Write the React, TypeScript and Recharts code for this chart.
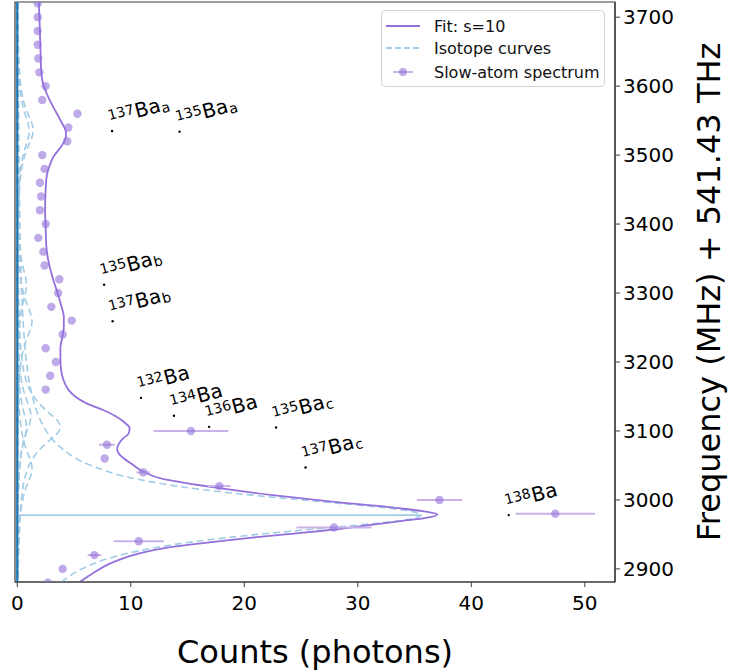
import {
  ComposedChart,
  Line,
  Scatter,
  XAxis,
  YAxis,
  ErrorBar,
  ReferenceArea,
  ReferenceDot,
} from 'recharts';

const FONT = '"DejaVu Sans", sans-serif';
const FIT_COLOR = '#9370db';
const DOT_COLOR = '#9370db';
const ERR_COLOR = '#c9b2ea';
const ISO_COLOR = '#a2cce6';
const BASE_COLOR = '#1f77b4';
const FRAME_COLOR = '#3a3a3a';

const X_DOMAIN = [-0.2, 52.66];
const Y_DOMAIN = [2881, 3722];
const X_TICKS = [0, 10, 20, 30, 40, 50];
const Y_TICKS = [2900, 3000, 3100, 3200, 3300, 3400, 3500, 3600, 3700];

// slow-atom spectrum (frequency offset in MHz, photon counts, half-width of x error)
const SPEC_FREQ = [
  3720, 3700, 3680, 3660, 3640, 3620, 3600, 3580, 3560, 3540, 3520, 3500, 3480,
  3460, 3440, 3420, 3400, 3380, 3360, 3340, 3320, 3300, 3280, 3260, 3240, 3220,
  3200, 3180, 3160, 3100, 3080, 3060, 3040, 3020, 3000, 2980, 2960, 2940, 2920,
  2900, 2880,
];
const SPEC_COUNTS = [
  1.8, 1.8, 1.8, 1.8, 1.85, 1.95, 2.5, 2.2, 5.3, 4.5, 4.4, 2.2, 2.4,
  2.0, 2.1, 2.0, 2.5, 1.85, 2.3, 2.4, 3.7, 3.6, 3.0, 4.8, 4.0, 2.5,
  3.4, 2.9, 2.5, 15.3, 7.9, 7.7, 11.1, 17.8, 37.2, 47.4, 27.9, 10.7, 6.8,
  4.0, 2.7,
];
const SPEC_ERR = [
  0, 0, 0, 0, 0, 0, 0, 0, 0, 0, 0, 0, 0,
  0, 0, 0, 0, 0, 0, 0, 0, 0, 0, 0, 0, 0,
  0, 0, 0, 3.3, 0.7, 0, 0.6, 1.0, 2.0, 3.5, 3.3, 2.2, 0.6,
  0, 0,
];

// fitted spectrum, s=10
const FIT_FREQ = [
  3722, 3700, 3675, 3650, 3625, 3605, 3589, 3575, 3560, 3546, 3536, 3530, 3522,
  3512, 3498, 3485, 3470, 3450, 3420, 3396, 3370, 3350, 3329, 3310, 3295, 3280,
  3266, 3250, 3235, 3220, 3205, 3190, 3175, 3160, 3150, 3140, 3130, 3122, 3113,
  3104, 3096, 3089, 3080, 3073, 3066, 3060, 3052, 3041, 3030, 3022, 3017, 3007,
  2998, 2988, 2983, 2979, 2974, 2969, 2963, 2957, 2950, 2945, 2940, 2936, 2932,
  2926, 2920, 2908, 2894, 2881,
];
const FIT_COUNTS = [
  1.9, 1.95, 2.0, 2.05, 2.1, 2.25, 2.6, 3.0, 3.5, 3.95, 4.25, 4.3, 4.2,
  3.85, 3.2, 2.85, 2.6, 2.5, 2.45, 2.5, 2.55, 2.7, 3.0, 3.35, 3.65, 3.9,
  4.1, 4.1, 3.95, 3.8, 3.8, 3.85, 4.05, 4.5, 5.1, 6.1, 7.6, 8.6, 9.4,
  9.9, 9.8, 9.3, 8.9, 8.8, 9.0, 9.4, 10.1, 11.1, 12.9, 15.8, 17.8, 22.5,
  27.5, 33.6, 36.0, 37.0, 36.0, 33.6, 30.8, 27.9, 23.6, 20.5, 17.7, 15.6, 13.6,
  11.7, 10.2, 8.2, 6.7, 5.5,
];

// individual isotope components as [frequency, counts]
const ISO_138 = [
  [3722, 0.075], [3600, 0.106], [3500, 0.15], [3400, 0.23], [3300, 0.39],
  [3250, 0.55], [3200, 0.81], [3150, 1.33], [3125, 1.8], [3100, 2.55],
  [3075, 3.9], [3050, 6.5], [3030, 10.6], [3015, 16.3], [3005, 21.8],
  [2995, 28.4], [2988, 32.7], [2983, 34.8], [2978, 35.6], [2973, 34.8],
  [2968, 32.7], [2960, 27.7], [2950, 21.2], [2940, 15.8], [2930, 11.9],
  [2915, 8.0], [2900, 5.7], [2881, 3.9],
];
const ISO_137A = [
  [3722, 0.046], [3686, 0.069], [3636, 0.146], [3611, 0.24], [3586, 0.45],
  [3571, 0.69], [3556, 1.04], [3546, 1.29], [3536, 1.4], [3526, 1.29],
  [3516, 1.04], [3501, 0.69], [3486, 0.45], [3461, 0.24], [3436, 0.146],
  [3386, 0.069], [3236, 0.018], [2881, 0.004],
];
const ISO_135A = [
  [3722, 0.035], [3685, 0.051], [3635, 0.11], [3610, 0.18], [3585, 0.34],
  [3570, 0.51], [3555, 0.78], [3545, 0.97], [3535, 1.05], [3525, 0.97],
  [3515, 0.78], [3500, 0.51], [3485, 0.34], [3460, 0.18], [3435, 0.11],
  [3385, 0.051], [3235, 0.014], [2881, 0.003],
];
const ISO_135B = [
  [3722, 0.006], [3612, 0.01], [3462, 0.04], [3412, 0.083], [3387, 0.136],
  [3362, 0.26], [3347, 0.39], [3332, 0.59], [3322, 0.74], [3312, 0.8],
  [3302, 0.74], [3292, 0.59], [3277, 0.39], [3262, 0.26], [3237, 0.136],
  [3212, 0.083], [3162, 0.04], [3012, 0.01], [2881, 0.005],
];
const ISO_137B = [
  [3722, 0.007], [3559, 0.017], [3409, 0.064], [3359, 0.135], [3334, 0.22],
  [3309, 0.42], [3294, 0.64], [3279, 0.96], [3269, 1.2], [3259, 1.3],
  [3249, 1.2], [3239, 0.96], [3224, 0.64], [3209, 0.42], [3184, 0.22],
  [3159, 0.135], [3109, 0.064], [2959, 0.017], [2881, 0.01],
];
const ISO_134 = [
  [3722, 0.004], [3422, 0.016], [3272, 0.06], [3222, 0.125], [3197, 0.2],
  [3172, 0.38], [3157, 0.59], [3142, 0.89], [3132, 1.1], [3122, 1.2],
  [3112, 1.1], [3102, 0.89], [3087, 0.59], [3072, 0.38], [3047, 0.2],
  [3022, 0.125], [2972, 0.06], [2881, 0.025],
];
const ISO_136 = [
  [3722, 0.012], [3406, 0.05], [3256, 0.19], [3206, 0.4], [3181, 0.65],
  [3156, 1.22], [3141, 1.86], [3126, 2.81], [3116, 3.5], [3106, 3.8],
  [3096, 3.5], [3086, 2.81], [3071, 1.86], [3056, 1.22], [3031, 0.65],
  [3006, 0.4], [2956, 0.19], [2881, 0.08],
];
const ISO_135C = [
  [3722, 0.003], [3406, 0.01], [3256, 0.04], [3206, 0.083], [3181, 0.136],
  [3156, 0.26], [3141, 0.39], [3126, 0.59], [3116, 0.74], [3106, 0.8],
  [3096, 0.74], [3086, 0.59], [3071, 0.39], [3056, 0.26], [3031, 0.136],
  [3006, 0.083], [2956, 0.04], [2881, 0.017],
];
const ISO_137C = [
  [3722, 0.003], [3346, 0.017], [3196, 0.064], [3146, 0.135], [3121, 0.22],
  [3096, 0.42], [3081, 0.64], [3066, 0.96], [3056, 1.2], [3046, 1.3],
  [3036, 1.2], [3026, 0.96], [3011, 0.64], [2996, 0.42], [2971, 0.22],
  [2946, 0.135], [2896, 0.064], [2881, 0.055],
];
const ISOTOPE_CURVES = [
  ISO_137A, ISO_135A, ISO_135B, ISO_137B, ISO_134, ISO_136, ISO_135C, ISO_137C, ISO_138,
];

// 138Ba line centre and the zero baseline
const PEAK_LINE = [[2978, 0], [2978, 35.6]];
const BASELINE = [[3722, 0], [2881, 0]];

// isotope markers: mass number, hyperfine component, marker position
const LABEL_MASS = ['137', '135', '135', '137', '132', '134', '136', '135', '137', '138'];
const LABEL_SUB = ['a', 'a', 'b', 'b', '', '', '', 'c', 'c', ''];
const LABEL_COUNTS = [8.35, 14.3, 7.65, 8.4, 10.9, 13.8, 16.9, 22.8, 25.4, 43.3];
const LABEL_FREQ = [3535, 3534, 3312, 3259, 3148, 3122, 3106, 3105, 3047, 2978];

// DejaVu Sans advance widths (em), used to butt the label pieces together
const ADVANCE: Record<string, number> = {
  '1': 0.636, '2': 0.636, '3': 0.636, '4': 0.636, '5': 0.636, '6': 0.636, '7': 0.636, '8': 0.636,
  B: 0.686, a: 0.613, b: 0.635, c: 0.55,
};
const textWidth = (str: string, size: number) =>
  [...str].reduce((w, ch) => w + (ADVANCE[ch] ?? 0.6) * size, 0);

const pairsToPoints = (pairs: number[][]) => pairs.map(([f, c]) => ({ f, c }));

const spectrum = SPEC_FREQ.map((f, i) => ({ f, c: SPEC_COUNTS[i], e: SPEC_ERR[i] }));
const fit = FIT_FREQ.map((f, i) => ({ f, c: FIT_COUNTS[i] }));

const SpectrumDot = (props: any) => (
  <circle cx={props.cx} cy={props.cy} r={4.2} fill={DOT_COLOR} fillOpacity={0.6} />
);

// small marker with the isotope name tilted 15 degrees; each piece is its own text
const makeIsotopeMarker = (mass: string, sub: string) => (props: any) => {
  const cx = Number(props.cx);
  const cy = Number(props.cy);
  const turn = `rotate(-15 ${cx} ${cy})`;
  const base = cy - 6;
  const baX = cx + textWidth(mass, 14) + 0.5;
  const subX = baX + textWidth('Ba', 20) + 0.5;
  return (
    <g>
      <circle cx={cx} cy={cy} r={1.2} fill="#000" />
      <text x={cx} y={base - 5} transform={turn} fontFamily={FONT} fontSize={14} fill="#000">
        {mass}
      </text>
      <text x={baX} y={base} transform={turn} fontFamily={FONT} fontSize={20} fill="#000">
        Ba
      </text>
      {sub ? (
        <text x={subX} y={base + 2} transform={turn} fontFamily={FONT} fontSize={14} fill="#000">
          {sub}
        </text>
      ) : null}
    </g>
  );
};

const XTitle = (props: any) => {
  const { viewBox } = props;
  return (
    <text
      x={viewBox.x + viewBox.width / 2}
      y={viewBox.y + 81}
      textAnchor="middle"
      fontFamily={FONT}
      fontSize={32}
      fill="#000"
    >
      Counts (photons)
    </text>
  );
};

const YTitle = (props: any) => {
  const { viewBox } = props;
  const x = viewBox.x + 105;
  const y = viewBox.y + viewBox.height / 2;
  return (
    <text
      x={x}
      y={y}
      transform={`rotate(-90 ${x} ${y})`}
      textAnchor="middle"
      fontFamily={FONT}
      fontSize={32}
      fill="#000"
    >
      Frequency (MHz) + 541.43 THz
    </text>
  );
};

const LegendRow = ({ top, label, kind }: { top: number; label: string; kind: string }) => (
  <div style={{ position: 'absolute', left: 3, top, height: 20, display: 'flex', alignItems: 'center' }}>
    <svg width={36} height={12}>
      {kind === 'fit' && <line x1={1} y1={6} x2={35} y2={6} stroke={FIT_COLOR} strokeWidth={2} />}
      {kind === 'iso' && (
        <line x1={1} y1={6} x2={35} y2={6} stroke={ISO_COLOR} strokeWidth={2} strokeDasharray="6 3" />
      )}
      {kind === 'spec' && (
        <g>
          <line x1={8} y1={6} x2={28} y2={6} stroke={ERR_COLOR} strokeWidth={2} />
          <circle cx={18} cy={6} r={4} fill={DOT_COLOR} fillOpacity={0.6} />
        </g>
      )}
    </svg>
    <span style={{ marginLeft: 13, fontSize: 16, color: '#111', whiteSpace: 'nowrap' }}>{label}</span>
  </div>
);

export default function App() {
  return (
    <div style={{ position: 'absolute', left: 0, top: 0, width: 731, height: 671, background: '#fff', fontFamily: FONT }}>
      <ComposedChart
        width={731}
        height={671}
        layout="vertical"
        margin={{ top: 2, right: 0, bottom: 0, left: 15 }}
      >
        <XAxis
          type="number"
          dataKey="c"
          domain={X_DOMAIN}
          ticks={X_TICKS}
          allowDataOverflow
          height={89}
          tickSize={5}
          tickMargin={9}
          tick={{ fontSize: 20, fill: '#000', fontFamily: FONT }}
          tickLine={{ stroke: FRAME_COLOR }}
          axisLine={{ stroke: FRAME_COLOR, strokeWidth: 1.2 }}
          label={XTitle}
        />
        <YAxis
          type="number"
          dataKey="f"
          orientation="right"
          reversed
          domain={Y_DOMAIN}
          ticks={Y_TICKS}
          allowDataOverflow
          width={116}
          tickSize={5}
          tickMargin={3}
          tick={{ fontSize: 20, fill: '#000', fontFamily: FONT }}
          tickLine={{ stroke: FRAME_COLOR }}
          axisLine={{ stroke: FRAME_COLOR, strokeWidth: 1.2 }}
          label={YTitle}
        />
        <ReferenceArea
          x1={X_DOMAIN[0]}
          x2={X_DOMAIN[1]}
          y1={Y_DOMAIN[0]}
          y2={Y_DOMAIN[1]}
          fill="none"
          stroke={FRAME_COLOR}
          strokeWidth={1.2}
          ifOverflow="visible"
        />
        {ISOTOPE_CURVES.map((curve, i) => (
          <Line
            key={`iso-${i}`}
            data={pairsToPoints(curve)}
            dataKey="c"
            type="monotone"
            stroke={ISO_COLOR}
            strokeWidth={1.6}
            strokeDasharray="7 4"
            dot={false}
            activeDot={false}
            isAnimationActive={false}
          />
        ))}
        <Line
          data={PEAK_LINE.map(([f, c]) => ({ f, c }))}
          dataKey="c"
          type="linear"
          stroke={ISO_COLOR}
          strokeWidth={1.6}
          dot={false}
          activeDot={false}
          isAnimationActive={false}
        />
        <Line
          data={BASELINE.map(([f, c]) => ({ f, c }))}
          dataKey="c"
          type="linear"
          stroke={BASE_COLOR}
          strokeWidth={2.2}
          dot={false}
          activeDot={false}
          isAnimationActive={false}
        />
        <Line
          data={fit}
          dataKey="c"
          type="monotone"
          stroke={FIT_COLOR}
          strokeWidth={1.8}
          dot={false}
          activeDot={false}
          isAnimationActive={false}
        />
        <Scatter data={spectrum} shape={SpectrumDot} isAnimationActive={false}>
          <ErrorBar dataKey="e" direction="x" width={0} stroke={ERR_COLOR} strokeWidth={2} />
        </Scatter>
        {LABEL_FREQ.map((f, i) => (
          <ReferenceDot
            key={`iso-label-${i}`}
            x={LABEL_COUNTS[i]}
            y={f}
            r={1.2}
            ifOverflow="visible"
            shape={makeIsotopeMarker(LABEL_MASS[i], LABEL_SUB[i])}
          />
        ))}
      </ComposedChart>
      <div
        style={{
          position: 'absolute',
          left: 381,
          top: 10,
          width: 222,
          height: 75,
          border: '1px solid #d4d4d4',
          borderRadius: 4,
          background: 'rgba(255,255,255,0.85)',
        }}
      >
        <LegendRow top={5} label="Fit: s=10" kind="fit" />
        <LegendRow top={27} label="Isotope curves" kind="iso" />
        <LegendRow top={51} label="Slow-atom spectrum" kind="spec" />
      </div>
    </div>
  );
}
